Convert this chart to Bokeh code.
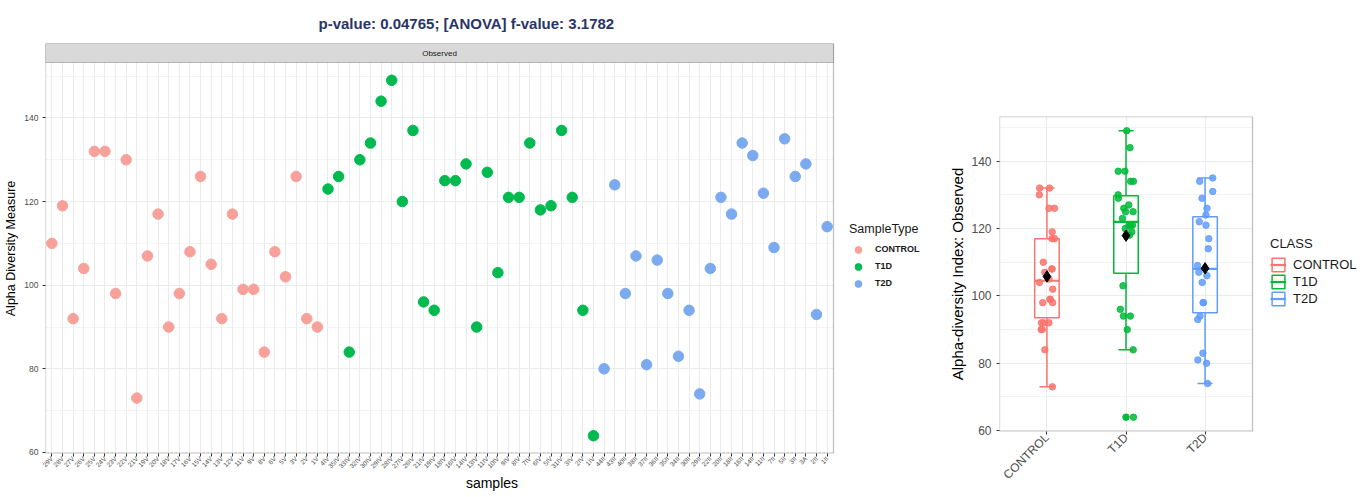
import numpy as np
from bokeh.plotting import figure
from bokeh.models import (ColumnDataSource, Range1d, FixedTicker,
                          Legend, LegendItem, BoxAnnotation, Label)
from bokeh.transform import dodge, jitter
from bokeh.layouts import row
from bokeh.embed import file_html
from bokeh.resources import INLINE

# ---------------- data ----------------
classes = ["CONTROL", "T1D", "T2D"]
control_samples = ["29V", "28V", "27V", "26V", "25V", "24V", "23V", "22V", "21V", "19V",
                   "20V", "18V", "17V", "16V", "15V", "14V", "13V", "12V", "11V", "9V",
                   "8V", "6V", "5V", "3V", "2V", "1V"]
control_values = [110, 119, 92, 104, 132, 132, 98, 130, 73, 107,
                  117, 90, 98, 108, 126, 105, 92, 117, 99, 99,
                  84, 108, 102, 126, 92, 90]
t1d_samples = ["4IV", "35IV", "33IV", "32IV", "30IV", "29IV", "28IV", "27IV", "26IV", "21IV",
               "19IV", "18IV", "16IV", "14IV", "13IV", "11IV", "10IV", "9IV", "8IV", "7IV",
               "6IV", "5IV", "31IV", "3IV", "2IV", "1IV"]
t1d_values = [123, 126, 84, 130, 134, 144, 149, 120, 137, 96,
              94, 125, 125, 129, 90, 127, 103, 121, 121, 134,
              118, 119, 137, 121, 94, 64]
t2d_samples = ["44II", "43II", "40II", "38II", "37II", "36II", "35II", "34II", "30II", "29II",
               "22II", "20II", "18II", "16II", "14II", "11II", "7II", "5II", "3II", "3A",
               "2II", "1II"]
t2d_values = [80, 124, 98, 107, 81, 106, 98, 83, 94, 74,
              104, 121, 117, 134, 131, 122, 109, 135, 126, 129,
              93, 114]
y_major_ticks = [60, 80, 100, 120, 140]
y_minor_ticks = [70, 90, 110, 130, 150]
title_text = "p-value: 0.04765; [ANOVA] f-value: 3.1782"
strip_text = "Observed"

# ---------------- styles ----------------
FONT = "Liberation Sans"
light_colors = {"CONTROL": "#F7A19A", "T1D": "#00BA50", "T2D": "#7BAAF0"}
box_colors = {"CONTROL": "#F8766D", "T1D": "#00BA38", "T2D": "#619CFF"}
GRID = "#EBEBEB"
BORDER = "#333333"
TICKTXT = "#4D4D4D"

group_samples = {"CONTROL": control_samples, "T1D": t1d_samples, "T2D": t2d_samples}
group_values = {"CONTROL": control_values, "T1D": t1d_values, "T2D": t2d_values}

samples = control_samples + t1d_samples + t2d_samples
n_s = len(samples)
all_values = np.array(control_values + t1d_values + t2d_values, dtype=float)
v_min, v_max = all_values.min(), all_values.max()
pad = 0.05 * (v_max - v_min)
y_lo, y_hi = v_min - pad, v_max + pad
XPAD = 0.6  # ggplot discrete expansion

H = 493


def style_axes(p, xfs, yfs, xlab_fs, ylab_fs):
    for ax in (p.xaxis[0], p.yaxis[0]):
        ax.axis_line_color = None
        ax.major_tick_line_color = BORDER
        ax.major_tick_out = 3
        ax.major_tick_in = 0
        ax.minor_tick_line_color = None
        ax.major_label_text_color = TICKTXT
        ax.major_label_text_font = FONT
        ax.axis_label_text_font = FONT
        ax.axis_label_text_font_style = "normal"
        ax.axis_label_text_color = "black"
    p.xaxis.major_label_text_font_size = xfs
    p.yaxis.major_label_text_font_size = yfs
    p.xaxis.axis_label_text_font_size = xlab_fs
    p.yaxis.axis_label_text_font_size = ylab_fs
    p.outline_line_color = None
    p.xgrid.grid_line_color = GRID
    p.ygrid.grid_line_color = GRID
    p.ygrid.minor_grid_line_color = GRID
    p.ygrid.minor_grid_line_width = 0.6
    p.background_fill_color = "white"
    p.border_fill_color = "white"


# ---------------- left figure ----------------
W1 = 940
mb1 = dict(left=45, right=2, top=43, bottom=40)
frame_h1 = H - mb1["top"] - mb1["bottom"]
frame_w1 = W1 - mb1["left"] - mb1["right"]
panel_w1 = 788  # px width of the scatter panel; the rest of the frame holds the legend
strip_px = 19
y_end1 = y_hi + (y_hi - y_lo) * strip_px / (frame_h1 - strip_px)
x_start1 = -XPAD
x_panel_end1 = n_s - 1 + XPAD
x_end1 = x_start1 + (x_panel_end1 - x_start1) * frame_w1 / panel_w1

p1 = figure(width=W1, height=H,
            x_range=Range1d(x_start1, x_end1), y_range=Range1d(y_lo, y_end1),
            output_backend="svg", toolbar_location=None, frame_align=False,
            min_border_left=mb1["left"], min_border_right=mb1["right"],
            min_border_top=mb1["top"], min_border_bottom=mb1["bottom"])
style_axes(p1, "6.5px", "8.5px", "14px", "12.5px")
p1.yaxis.ticker = FixedTicker(ticks=y_major_ticks, minor_ticks=y_minor_ticks)
p1.xaxis.ticker = FixedTicker(ticks=list(range(n_s)))
p1.xaxis.major_label_overrides = {i: s for i, s in enumerate(samples)}
p1.xaxis.major_label_orientation = np.pi / 4
p1.xaxis.major_label_standoff = 1
p1.yaxis.major_label_standoff = 3
p1.xaxis.axis_label = "samples"
p1.yaxis.axis_label = "Alpha Diversity Measure"
p1.xaxis.axis_label_standoff = 0
p1.yaxis.axis_label_standoff = 3

p1.title.text = title_text
p1.title.align = "left"
p1.title.offset = 273
p1.title.standoff = 24
p1.title.text_font = FONT
p1.title.text_font_size = "15px"
p1.title.text_font_style = "bold"
p1.title.text_color = "#2A3468"

items1 = []
pos = 0
for g in classes:
    k = len(group_samples[g])
    src = ColumnDataSource(dict(xi=list(range(pos, pos + k)), value=group_values[g]))
    pos += k
    r = p1.scatter(x="xi", y="value", source=src, size=10.5,
                   fill_color=light_colors[g], line_color=light_colors[g])
    items1.append(LegendItem(label=g, renderers=[r]))

# white area right of the panel (legend zone), panel border, facet strip
p1.add_layout(BoxAnnotation(left=x_panel_end1, fill_color="white", fill_alpha=1,
                            line_color=None, level="annotation"))
p1.add_layout(BoxAnnotation(left=x_start1, right=x_panel_end1, bottom=y_lo, top=y_end1,
                            fill_alpha=0, line_color=BORDER, line_width=1.3, level="annotation"))
p1.add_layout(BoxAnnotation(left=x_start1, right=x_panel_end1, bottom=y_hi, top=y_end1,
                            fill_color="#D9D9D9", fill_alpha=1,
                            line_color=BORDER, line_width=1, level="annotation"))
p1.add_layout(Label(x=(x_start1 + x_panel_end1) / 2, y=(y_hi + y_end1) / 2,
                    text=strip_text, text_align="center", text_baseline="middle",
                    text_font=FONT, text_font_size="8px", text_color="#1A1A1A"))

frame_bottom1 = H - mb1["bottom"]
leg1 = Legend(items=items1, location=(849 - mb1["left"], frame_bottom1 - 291.5), title="SampleType",
              title_text_font=FONT, title_text_font_size="12.5px",
              title_text_font_style="normal", title_text_color="#1A1A1A",
              title_standoff=5,
              label_text_font=FONT, label_text_font_size="9px",
              label_text_font_style="bold", label_text_color="#1A1A1A",
              glyph_width=18, glyph_height=17, label_height=17, label_standoff=8,
              spacing=0, padding=0, margin=0,
              border_line_color=None, background_fill_alpha=0)
p1.add_layout(leg1)

# ---------------- right figure ----------------
W2 = 426
mb2 = dict(left=59, right=2, top=116, bottom=H - 431)
frame_w2 = W2 - mb2["left"] - mb2["right"]
panel_w2 = 253
x_start2 = -XPAD
x_panel_end2 = len(classes) - 1 + XPAD
x_end2 = x_start2 + (x_panel_end2 - x_start2) * frame_w2 / panel_w2

p2 = figure(width=W2, height=H,
            x_range=Range1d(x_start2, x_end2), y_range=Range1d(y_lo, y_hi),
            output_backend="svg", toolbar_location=None, frame_align=False,
            min_border_left=mb2["left"], min_border_right=mb2["right"],
            min_border_top=mb2["top"], min_border_bottom=mb2["bottom"])
style_axes(p2, "12px", "12px", "13px", "15px")
p2.yaxis.ticker = FixedTicker(ticks=y_major_ticks, minor_ticks=y_minor_ticks)
p2.xaxis.ticker = FixedTicker(ticks=list(range(len(classes))))
p2.xaxis.major_label_overrides = {i: c for i, c in enumerate(classes)}
p2.xaxis.major_label_orientation = np.pi / 4
p2.xaxis.major_label_standoff = 1
p2.yaxis.major_label_standoff = 4
p2.yaxis.axis_label = "Alpha-diversity Index: Observed"
p2.yaxis.axis_label_standoff = 2

stats = dict(xi=[], q1=[], q2=[], q3=[], lower=[], upper=[], mean=[], color=[])
out = dict(xi=[], value=[], color=[])
pts = dict(xi=[], value=[], color=[])
for i, g in enumerate(classes):
    a = np.asarray(group_values[g], dtype=float)
    q1, q2, q3 = np.percentile(a, [25, 50, 75])
    iqr = q3 - q1
    lo_f, hi_f = q1 - 1.5 * iqr, q3 + 1.5 * iqr
    inside = a[(a >= lo_f) & (a <= hi_f)]
    stats["xi"].append(i)
    stats["q1"].append(q1)
    stats["q2"].append(q2)
    stats["q3"].append(q3)
    stats["lower"].append(inside.min())
    stats["upper"].append(inside.max())
    stats["mean"].append(a.mean())
    stats["color"].append(box_colors[g])
    for v in a[(a < lo_f) | (a > hi_f)]:
        out["xi"].append(i)
        out["value"].append(v)
        out["color"].append(box_colors[g])
    for v in a:
        pts["xi"].append(i)
        pts["value"].append(v)
        pts["color"].append(box_colors[g])

bs = ColumnDataSource(stats)
box_w = 0.31
cap_w = 0.19
lw = 1.5
p2.segment(x0="xi", x1="xi", y0="q3", y1="upper", line_color="color", line_width=lw, source=bs)
p2.segment(x0="xi", x1="xi", y0="q1", y1="lower", line_color="color", line_width=lw, source=bs)
p2.segment(x0=dodge("xi", -cap_w / 2), x1=dodge("xi", cap_w / 2),
           y0="upper", y1="upper", line_color="color", line_width=lw, source=bs)
p2.segment(x0=dodge("xi", -cap_w / 2), x1=dodge("xi", cap_w / 2),
           y0="lower", y1="lower", line_color="color", line_width=lw, source=bs)
r_box = p2.vbar(x="xi", top="q3", bottom="q1", width=box_w, fill_color="white", fill_alpha=0,
                line_color="color", line_width=lw, source=bs)
r_med = p2.segment(x0=dodge("xi", -box_w / 2), x1=dodge("xi", box_w / 2),
                   y0="q2", y1="q2", line_color="color", line_width=2.2, source=bs)
p2.scatter(x="xi", y="value", source=ColumnDataSource(out), size=6.5,
           fill_color="color", line_color="color")
p2.scatter(x=jitter("xi", width=0.2), y="value", source=ColumnDataSource(pts),
           size=6.5, fill_color="color", line_color="color", fill_alpha=0.85, line_alpha=0.85)
p2.scatter(x="xi", y="mean", source=bs, marker="diamond", size=11.5,
           fill_color="black", line_color="black")

p2.add_layout(BoxAnnotation(left=x_panel_end2, fill_color="white", fill_alpha=1,
                            line_color=None, level="annotation"))
p2.add_layout(BoxAnnotation(left=x_start2, right=x_panel_end2, bottom=y_lo, top=y_hi,
                            fill_alpha=0, line_color=BORDER, line_width=1.3, level="annotation"))

frame_bottom2 = H - mb2["bottom"]
items2 = [LegendItem(label=g, renderers=[r_box, r_med], index=i) for i, g in enumerate(classes)]
leg2 = Legend(items=items2, location=(1270 - 940 - mb2["left"], frame_bottom2 - 306.5), title="CLASS",
              title_text_font=FONT, title_text_font_size="13px",
              title_text_font_style="normal", title_text_color="#1A1A1A",
              title_standoff=5,
              label_text_font=FONT, label_text_font_size="13px",
              label_text_color="#1A1A1A",
              glyph_width=16, glyph_height=17, label_height=17, label_standoff=7,
              spacing=0, padding=0, margin=0,
              border_line_color=None, background_fill_alpha=0)
p2.add_layout(leg2)

layout = row(p1, p2)
open("out.html", "w").write(file_html(layout, INLINE))
